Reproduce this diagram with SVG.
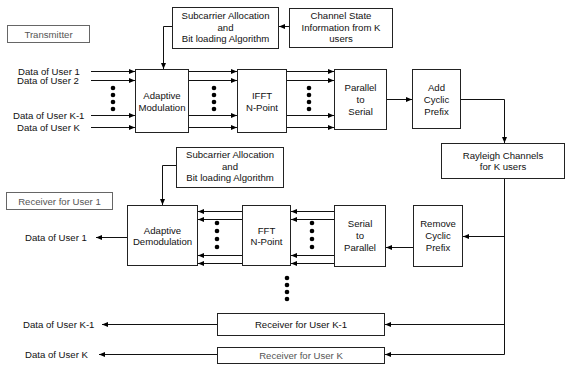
<svg xmlns="http://www.w3.org/2000/svg" width="565" height="365" viewBox="0 0 565 365">
<defs>
<marker id="ah" markerWidth="6" markerHeight="6" refX="6" refY="3" orient="auto" markerUnits="userSpaceOnUse">
<path d="M0,0.5 L6,3 L0,5.5 z" fill="#000"/>
</marker>
<style>
text{font-family:"Liberation Sans",Arial,sans-serif;font-size:9.6px;fill:#111;text-anchor:middle;dominant-baseline:central}
.l{text-anchor:start}
.g{fill:#555}
rect{fill:#fff;stroke:#222;stroke-width:1}
.gb{stroke:#666}
#connectors path{fill:none;stroke:#111;stroke-width:1;marker-end:url(#ah)}
.dot{fill:#000}
</style>
</defs>
<rect width="565" height="365" style="fill:#fff;stroke:none"/>

<g id="transmitter-label"><rect class="gb" x="7.5" y="25.5" width="82" height="17"/><text class="g" x="48.5" y="34">Transmitter</text></g>
<g id="tx-subcarrier"><rect x="172.5" y="7.5" width="106" height="41"/><text x="225.5" y="15.5">Subcarrier Allocation</text><text x="225.5" y="27">and</text><text x="225.5" y="38.5">Bit loading Algorithm</text></g>
<g id="csi"><rect x="289.5" y="8.5" width="103" height="39"/><text x="341" y="15.5">Channel State</text><text x="341" y="27">Information from K</text><text x="341" y="38.5">users</text></g>
<g id="adaptive-mod"><rect x="135.5" y="69.5" width="53" height="63"/><text x="162" y="95">Adaptive</text><text x="162" y="107">Modulation</text></g>
<g id="ifft"><rect x="237.5" y="69.5" width="49" height="63"/><text x="262" y="95">IFFT</text><text x="262" y="107">N-Point</text></g>
<g id="p2s"><rect x="334.5" y="69.5" width="52" height="60"/><text x="360.5" y="87">Parallel</text><text x="360.5" y="99">to</text><text x="360.5" y="111">Serial</text></g>
<g id="add-cp"><rect x="412.5" y="69.5" width="48" height="59"/><text x="436.5" y="87">Add</text><text x="436.5" y="99">Cyclic</text><text x="436.5" y="111">Prefix</text></g>
<g id="rayleigh"><rect x="441.5" y="143.5" width="123" height="35"/><text x="503" y="155.5">Rayleigh Channels</text><text x="503" y="166.5">for K users</text></g>

<g id="receiver-label"><rect class="gb" x="6.5" y="192.5" width="106" height="17"/><text class="g" x="59.5" y="201">Receiver for User 1</text></g>
<g id="rx-subcarrier"><rect x="176.5" y="147.5" width="107" height="40"/><text x="230" y="154.5">Subcarrier Allocation</text><text x="230" y="166">and</text><text x="230" y="177.5">Bit loading Algorithm</text></g>
<g id="adaptive-demod"><rect x="127.5" y="205.5" width="70" height="60"/><text x="162.5" y="230">Adaptive</text><text x="162.5" y="241.5">Demodulation</text></g>
<g id="fft"><rect x="242.5" y="205.5" width="48" height="60"/><text x="266.5" y="230">FFT</text><text x="266.5" y="241.5">N-Point</text></g>
<g id="s2p"><rect x="334.5" y="205.5" width="51" height="61"/><text x="360" y="223.5">Serial</text><text x="360" y="235.5">to</text><text x="360" y="247">Parallel</text></g>
<g id="remove-cp"><rect x="413.5" y="205.5" width="49" height="61"/><text x="438" y="223.5">Remove</text><text x="438" y="235.5">Cyclic</text><text x="438" y="247">Prefix</text></g>
<g id="rx-k1"><rect x="217.5" y="313.5" width="167" height="22"/><text x="301" y="324.5">Receiver for User K-1</text></g>
<g id="rx-k"><rect x="217.5" y="347.5" width="167" height="16"/><text class="g" x="301" y="355.5">Receiver for User K</text></g>

<g id="labels">
<text class="l" x="18" y="71">Data of User 1</text>
<text class="l" x="17" y="80.5">Data of User 2</text>
<text class="l" x="13" y="115.5">Data of User K-1</text>
<text class="l" x="17" y="127">Data of User K</text>
<text class="l" x="25" y="237">Data of User 1</text>
<text class="l" x="23" y="324">Data of User K-1</text>
<text class="l" x="25" y="354">Data of User K</text>
</g>

<g id="dots">
<circle class="dot" cx="113" cy="88" r="2.3"/><circle class="dot" cx="113" cy="95" r="2.3"/><circle class="dot" cx="113" cy="102" r="2.3"/><circle class="dot" cx="113" cy="109" r="2.3"/>
<circle class="dot" cx="214" cy="88" r="2.3"/><circle class="dot" cx="214" cy="95" r="2.3"/><circle class="dot" cx="214" cy="102" r="2.3"/><circle class="dot" cx="214" cy="109" r="2.3"/>
<circle class="dot" cx="309" cy="88" r="2.3"/><circle class="dot" cx="309" cy="95" r="2.3"/><circle class="dot" cx="309" cy="102" r="2.3"/><circle class="dot" cx="309" cy="109" r="2.3"/>
<circle class="dot" cx="217" cy="223" r="2.3"/><circle class="dot" cx="217" cy="231" r="2.3"/><circle class="dot" cx="217" cy="239" r="2.3"/><circle class="dot" cx="217" cy="247" r="2.3"/>
<circle class="dot" cx="312" cy="223" r="2.3"/><circle class="dot" cx="312" cy="231" r="2.3"/><circle class="dot" cx="312" cy="239" r="2.3"/><circle class="dot" cx="312" cy="247" r="2.3"/>
<circle class="dot" cx="287" cy="278" r="2.3"/><circle class="dot" cx="287" cy="285" r="2.3"/><circle class="dot" cx="287" cy="292" r="2.3"/><circle class="dot" cx="287" cy="299" r="2.3"/>
</g>

<g id="connectors">
<path d="M289,26.5 H279"/>
<path d="M172,26.5 H163.5 V69"/>
<path d="M91,71.5 H135"/><path d="M91,80.5 H135"/><path d="M91,115.5 H135"/><path d="M91,127.5 H135"/>
<path d="M189,71.5 H237"/><path d="M189,80.5 H237"/><path d="M189,115.5 H237"/><path d="M189,127.5 H237"/>
<path d="M287,71.5 H334"/><path d="M287,80.5 H334"/><path d="M287,115.5 H334"/><path d="M287,127.5 H334"/>
<path d="M387,99.5 H412"/>
<path d="M461,99.5 H504.5 V143"/>
<path d="M504.5,179 V236.5 H463"/>
<path d="M504.5,236 V324.5 H385"/>
<path d="M504.5,324 V354.5 H385"/>
<path d="M413,247.5 H386"/>
<path d="M334,211.5 H291"/><path d="M334,219.5 H291"/><path d="M334,255.5 H291"/><path d="M334,263.5 H291"/>
<path d="M242,211.5 H198"/><path d="M242,219.5 H198"/><path d="M242,255.5 H198"/><path d="M242,263.5 H198"/>
<path d="M176,165.5 H162.5 V205"/>
<path d="M127,237.5 H96"/>
<path d="M217,324.5 H102"/>
<path d="M217,354.5 H99"/>
</g>
</svg>
